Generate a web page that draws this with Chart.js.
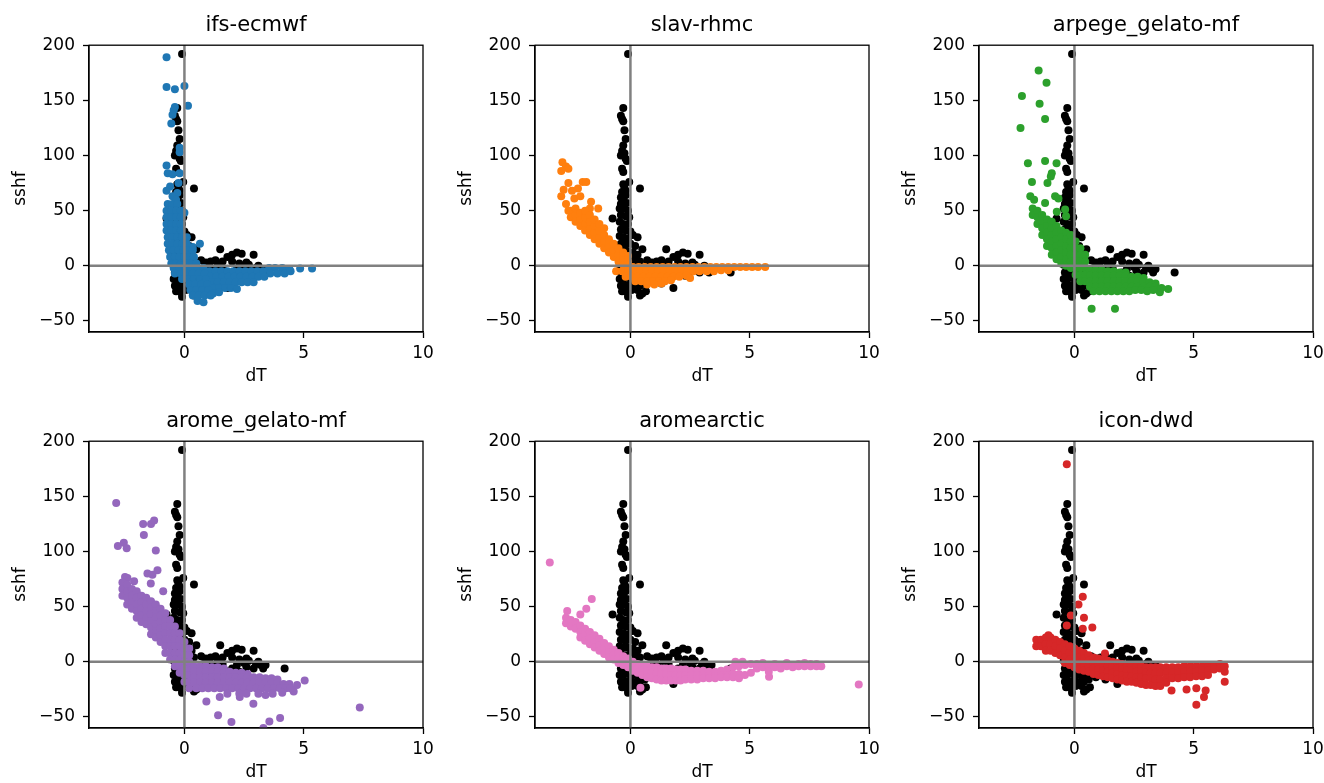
<!DOCTYPE html>
<html>
<head>
<meta charset="utf-8">
<script src="https://cdn.jsdelivr.net/npm/chart.js@4.4.1/dist/chart.umd.min.js"></script>
<style>
body { margin: 0; background: #fff; }
#fig { position: relative; width: 1324px; height: 783px; overflow: hidden; background: #fff; }
#fig canvas { position: absolute; }
</style>
</head>
<body>
<div id="fig"></div>
<script>
// panel titles + matplotlib tab10 colours
const modelNames = ['ifs-ecmwf', 'slav-rhmc', 'arpege_gelato-mf', 'arome_gelato-mf', 'aromearctic', 'icon-dwd'];
const modelColors = ['#1f77b4', '#ff7f0e', '#2ca02c', '#9467bd', '#e377c2', '#d62728'];
const xTicks = [0, 5, 10];
const yTicks = [-50, 0, 50, 100, 150, 200];

// observed (black) dT / sshf pairs, same in every panel
const obsPoints = [
  [-0.1,192],[-0.3,143],[-0.4,136],[-0.35,133],[-0.3,131],[-0.25,123],[-0.2,115],[-0.3,109],[-0.35,104],[-0.25,102],
  [-0.4,100],[-0.2,97],[-0.15,95],[-0.35,88],[-0.3,85],[-0.05,76],[0.4,70],[-0.3,74],[-0.25,71],[-0.2,68],[-0.35,67],
  [-0.2,64],[-0.4,62],[-0.3,59],[-0.15,57],[-0.4,56],[-0.75,43],
  [-0.45,52],[-0.25,52],[-0.1,50],[-0.4,46],[-0.2,45],[-0.05,44],[-0.45,40],[-0.3,38],[-0.1,38],[-0.4,33],[-0.2,32],
  [0,31],[-0.45,27],[-0.3,26],[-0.1,25],[0.1,28],[0.3,26],[-0.4,20],[-0.2,19],[0,20],[0.2,18],[-0.45,14],[-0.3,13],
  [-0.1,13],[0.1,12],[0.3,10],[-0.4,7],[-0.2,6],[0,7],[0.2,5],[0.4,4],[-0.45,1],[-0.3,0],[-0.1,1],[0.1,-1],[0.3,-1],
  [-0.4,-6],[-0.2,-6],[0,-5],[0.2,-7],[0.4,-6],[-0.45,-12],[-0.3,-12],[-0.1,-11],[0.1,-12],[0.3,-13],[0.5,-12],
  [-0.4,-18],[-0.2,-18],[0,-17],[0.2,-19],[0.4,-18],[0.6,-16],[-0.35,-23],[-0.15,-24],[0.05,-22],[0.3,-22],[0.5,-25],
  [0.65,-23],[-0.1,-28],[0.4,-27],
  [0.5,15],[0.7,5],[0.9,3],[1.1,4],[1.3,5],[1.5,15],[1.6,4],[1.8,8],[2.0,10],[2.2,12],[2.4,11],[2.6,3],[2.9,10],
  [2.0,4],[2.3,2],[2.7,1],[3.0,-2],[3.2,-3],[3.4,-3],[4.2,-6],[1.4,1],[1.0,0],[2.5,-1],[3.1,0],
  [0.7,-8],[0.9,-14],[1.1,-10],[1.3,-16],[1.5,-12],[1.8,-20],[1.7,-8],[2.0,-6],[2.3,-9],[2.6,-5],[2.9,-6],[3.3,-6],
  [1.2,-3],[0.8,-2],[1.6,-2],[2.2,-3]
];

const ifsPoints = [
  [-0.75,189],[-0.75,162],[-0.4,160],[0,163],[0.15,145],[-0.4,144],[-0.45,141],[-0.5,137],[-0.55,129],[-0.2,107],
  [-0.2,103],[-0.75,91],[-0.7,84],[-0.5,83],[-0.2,84],[-0.6,72],[-0.75,68],[-0.3,66],[-0.5,63],[0,48],[-0.25,75],
  [-0.35,60],[0.65,20],[0.35,17],
  [-0.7,56],[-0.5,56],[-0.3,56],[-0.75,50],[-0.55,50],[-0.35,50],[-0.15,50],[-0.75,44],[-0.55,44],[-0.35,44],[-0.15,44],
  [-0.75,38],[-0.55,38],[-0.35,38],[-0.15,38],[-0.75,32],[-0.55,32],[-0.35,32],[-0.15,32],
  [-0.7,26],[-0.5,26],[-0.3,26],[-0.1,26],[0.1,26],[-0.7,20],[-0.5,20],[-0.3,20],[-0.1,20],[0.1,20],
  [-0.65,14],[-0.45,14],[-0.25,14],[-0.05,14],[0.15,14],[0.35,14],[-0.6,8],[-0.4,8],[-0.2,8],[0,8],[0.2,8],[0.4,8],
  [-0.55,2],[-0.35,2],[-0.15,2],[0.05,2],[0.25,2],[0.5,2],
  [-0.45,-2],[-0.2,-2],[0.05,-2],[0.3,-2],[0.55,-2],[0.8,-2],[3.55,-2],[3.8,-2],[4.1,-2],[4.4,-3],[4.85,-2.5],[5.35,-2.5],
  [1.05,-5],[1.3,-5],[1.55,-5],[1.8,-5],[2.05,-5],[2.3,-5],[2.55,-5],[2.8,-5],[3.05,-5],[3.3,-5],
  [-0.4,-7],[-0.15,-7],[0.1,-7],[0.35,-7],[0.6,-7],[0.85,-7],[3.6,-7],[3.9,-7],[4.2,-7],[4.45,-5],
  [1.1,-10],[1.35,-10],[1.6,-10],[1.85,-10],[2.1,-10],[2.35,-10],[2.6,-10],[2.85,-10],[3.1,-10],[3.35,-10],
  [0.15,-12],[0.4,-12],[0.65,-12],[0.9,-12],[-0.1,-12],
  [1.15,-15],[1.4,-15],[1.65,-15],[1.9,-15],[2.15,-15],[2.4,-15],[2.65,-15],[2.9,-15],
  [0.2,-17],[0.45,-17],[0.7,-17],[0.95,-17],
  [1.2,-20],[1.45,-20],[1.7,-20],[1.95,-20],[2.2,-21],
  [0.25,-22],[0.5,-22],[0.75,-22],[1.0,-22],[1.2,-25],[1.45,-24],
  [0.35,-27],[0.6,-27],[0.85,-27],[1.1,-27],[0.55,-32],[0.8,-33]
];

const slavPoints = [
  [-2.85,94],[-2.7,90],[-2.6,88],[-2.9,86],[-2.6,75],[-2.8,69],[-2.9,63],[-2.2,70],[-2.0,76],[-1.85,76],[-2.35,61],
  [-2.1,63],[-1.65,58],[-1.7,52],[-1.35,52],[-2.45,68],[-2.7,56],[-2.6,50],
  [-2.5,50],[-2.5,44],[-2.3,46],[-2.3,40],[-2.3,52],[-2.1,42],[-2.1,36],[-2.1,48],[-1.9,38],[-1.9,32],[-1.9,44],[-1.9,50],
  [-1.7,34],[-1.7,28],[-1.7,40],[-1.7,46],[-1.5,30],[-1.5,24],[-1.5,36],[-1.5,42],[-1.3,26],[-1.3,20],[-1.3,32],[-1.3,38],
  [-1.1,22],[-1.1,16],[-1.1,28],[-1.1,34],[-0.9,18],[-0.9,12],[-0.9,24],[-0.7,14],[-0.7,8],[-0.7,20],
  [-0.5,10],[-0.5,4],[-0.5,16],[-0.3,7],[-0.3,1],[-0.3,12],[-0.1,4],[-0.1,-2],[-0.1,9],
  [0.1,-1],[0.35,-1],[0.6,-1],[0.85,-1],[1.1,-1],[1.35,-1],[1.6,-1],[1.85,-1],[2.1,-1],[2.35,-1],[2.6,-1],[2.85,-1],
  [3.1,-1],[3.35,-1],[3.6,-1],[3.85,-1],[4.1,-1],[4.35,-1],[4.6,-1],[4.85,-1],[5.1,-1],[5.35,-1],[5.65,-1],
  [-0.6,-5],[-0.35,-5],[-0.1,-5],[0.15,-5],[0.4,-5],[0.65,-5],[0.9,-5],[1.15,-5],[1.4,-5],[1.65,-5],[1.9,-5],
  [2.15,-5],[2.4,-5],[2.65,-5],[2.9,-5],[3.2,-5],[3.5,-5],[3.8,-4],[4.1,-4],
  [-0.2,-10],[0.05,-10],[0.3,-10],[0.55,-10],[0.8,-10],[1.05,-10],[1.3,-10],[1.55,-10],[1.8,-10],[2.05,-10],[2.35,-9],
  [2.5,-11],[0.2,-14],[0.45,-14],[0.7,-14],[0.95,-14],[1.2,-14],[1.45,-14],[1.7,-13],[0.7,-17],[1.0,-17],[1.3,-16]
];

const arpegePoints = [
  [-1.5,177],[-1.17,166],[-2.2,154],[-1.46,147],[-1.23,133],[-2.26,125],[-1.95,93],[-1.23,95],[-0.75,93],[-1.78,76],
  [-0.95,84],[-0.99,81],[-1.13,75],[-1.85,63],[-1.69,60],[-1.23,57],[-0.81,63],[-0.67,61],[-0.74,49],[-0.39,51],
  [-0.35,45],[0.72,-39],[1.7,-39],[3.93,-21],[3.58,-24],
  [-1.75,52],[-1.75,46],[-1.55,50],[-1.55,44],[-1.55,38],[-1.35,46],[-1.35,40],[-1.35,34],[-1.35,28],
  [-1.15,42],[-1.15,36],[-1.15,30],[-1.15,24],[-1.15,18],[-0.95,40],[-0.95,34],[-0.95,28],[-0.95,22],[-0.95,16],[-0.95,10],
  [-0.75,36],[-0.75,30],[-0.75,24],[-0.75,18],[-0.75,12],[-0.75,6],[-0.55,32],[-0.55,26],[-0.55,20],[-0.55,14],[-0.55,8],[-0.55,2],
  [-0.35,30],[-0.35,24],[-0.35,18],[-0.35,12],[-0.35,6],[-0.35,0],[-0.15,28],[-0.15,22],[-0.15,16],[-0.15,10],[-0.15,4],[-0.15,-2],
  [0.05,22],[0.05,16],[0.05,10],[0.05,4],[0.05,-2],[0.05,-8],[0.25,16],[0.25,10],[0.25,4],[0.25,-2],[0.25,-8],[0.25,-14],
  [0.45,10],[0.45,4],[0.45,-2],[0.45,-8],[0.45,-14],
  [0.65,-4],[0.9,-4],[1.15,-4],[1.4,-5],[1.65,-5],[1.9,-6],[2.15,-6],
  [0.65,-9],[0.9,-9],[1.15,-9],[1.4,-9],[1.65,-9],[1.9,-9],[2.15,-9],[2.4,-10],[2.65,-10],[2.9,-11],
  [0.65,-14],[0.9,-14],[1.15,-14],[1.4,-14],[1.65,-14],[1.9,-14],[2.15,-14],[2.4,-14],[2.65,-14],[2.9,-14],[3.15,-15],[3.4,-16],
  [0.65,-19],[0.9,-19],[1.15,-19],[1.4,-19],[1.65,-19],[1.9,-19],[2.15,-19],[2.4,-19],[2.65,-19],[2.9,-19],[3.15,-19],[3.4,-19],[3.65,-20],
  [0.8,-23],[1.05,-23],[1.3,-23],[1.55,-23],[1.8,-23],[2.05,-23],[2.3,-23],[2.55,-22],[2.8,-22],[3.05,-23],[3.3,-22]
];

const aromePoints = [
  [-2.86,144],[-2.79,105],[-2.54,108],[-2.42,103],[-1.73,125],[-1.7,115],[-1.4,125],[-1.27,128],[-1.2,101],[-1.55,80],
  [-1.34,79],[-1.13,83],[-1.41,71],[-2.49,77],[-2.39,76],[-2.11,73],[-0.89,64],[7.35,-41.5],[5.04,-17],[1.41,-48.5],
  [1.97,-54.5],[3.31,-60],[3.56,-54],[4.01,-51],[0.92,-36],[2.89,-38],[2.32,-32],[1.48,-32],[4.58,-27],[4.72,-21],
  [-2.6,72],[-2.6,66],[-2.6,60],[-2.4,70],[-2.4,64],[-2.4,58],[-2.4,52],[-2.2,66],[-2.2,60],[-2.2,54],[-2.2,48],
  [-2.0,64],[-2.0,58],[-2.0,52],[-2.0,46],[-2.0,40],[-1.8,60],[-1.8,54],[-1.8,48],[-1.8,42],[-1.8,36],
  [-1.6,58],[-1.6,52],[-1.6,46],[-1.6,40],[-1.6,34],[-1.4,55],[-1.4,49],[-1.4,43],[-1.4,37],[-1.4,31],[-1.4,25],
  [-1.2,52],[-1.2,46],[-1.2,40],[-1.2,34],[-1.2,28],[-1.2,22],[-1.0,48],[-1.0,42],[-1.0,36],[-1.0,30],[-1.0,24],[-1.0,18],
  [-0.8,44],[-0.8,38],[-0.8,32],[-0.8,26],[-0.8,20],[-0.8,14],[-0.8,8],[-0.6,38],[-0.6,32],[-0.6,26],[-0.6,20],[-0.6,14],[-0.6,8],[-0.6,2],
  [-0.4,32],[-0.4,26],[-0.4,20],[-0.4,14],[-0.4,8],[-0.4,2],[-0.4,-4],[-0.2,26],[-0.2,20],[-0.2,14],[-0.2,8],[-0.2,2],[-0.2,-4],[-0.2,-10],
  [0,18],[0,12],[0,6],[0,0],[0,-6],[0,-12],[0,-18],[0.2,12],[0.2,6],[0.2,0],[0.2,-6],[0.2,-12],[0.2,-18],[0.2,-24],
  [0.4,-4],[0.65,-4],[0.9,-4],[1.15,-5],[1.4,-5],[1.65,-6],
  [0.4,-9],[0.65,-9],[0.9,-9],[1.15,-9],[1.4,-9],[1.65,-9],[1.9,-9],[2.15,-10],[2.4,-10],[2.65,-11],
  [0.4,-14],[0.65,-14],[0.9,-14],[1.15,-14],[1.4,-14],[1.65,-14],[1.9,-14],[2.15,-14],[2.4,-14],[2.65,-14],[2.9,-14],
  [3.15,-14],[3.4,-15],[3.65,-15],[3.9,-16],
  [0.4,-19],[0.65,-19],[0.9,-19],[1.15,-19],[1.4,-19],[1.65,-19],[1.9,-19],[2.15,-19],[2.4,-19],[2.65,-19],[2.9,-19],
  [3.15,-19],[3.4,-19],[3.65,-19],[3.9,-19],[4.15,-20],[4.4,-20],
  [0.5,-24],[0.75,-24],[1.0,-24],[1.25,-24],[1.5,-24],[1.75,-24],[2.0,-24],[2.25,-24],[2.5,-24],[2.75,-24],[3.0,-24],
  [3.25,-24],[3.5,-24],[3.75,-24],[4.0,-24],[4.25,-24],[4.45,-24],
  [1.8,-29],[2.3,-29],[2.6,-29],[3.1,-29],[3.4,-30],[3.7,-29],[4.1,-28]
];

const aromeArcticPoints = [
  [-3.38,90],[-1.62,57],[-2.65,46],[-1.85,48],[-2.1,43],[9.57,-20.6],[0.42,-23.6],[5.81,-13.6],
  [-2.7,40],[-2.7,35],[-2.5,38],[-2.5,32],[-2.3,36],[-2.3,30],[-2.1,33],[-2.1,27],[-2.1,22],[-1.9,30],[-1.9,24],[-1.9,19],
  [-1.7,27],[-1.7,21],[-1.7,16],[-1.5,24],[-1.5,18],[-1.5,13],[-1.3,21],[-1.3,15],[-1.3,10],[-1.1,17],[-1.1,12],[-1.1,7],
  [-0.9,14],[-0.9,9],[-0.9,4],[-0.7,11],[-0.7,6],[-0.7,2],[-0.5,8],[-0.5,3],[-0.5,-1],[-0.3,5],[-0.3,0],[-0.3,-3],
  [-0.1,3],[-0.1,-2],[-0.1,-5],[0.1,0],[0.1,-4],[0.1,-8],[0.3,-2],[0.3,-6],[0.3,-10],[0.5,-3],[0.5,-8],[0.5,-12],
  [0.7,-4],[0.7,-9],[0.7,-14],[0.9,-5],[0.9,-10],[0.9,-15],[1.1,-5],[1.1,-10],[1.1,-16],[1.3,-6],[1.3,-11],[1.3,-17],
  [1.5,-6],[1.5,-11],[1.5,-17],[1.7,-6],[1.7,-12],[1.7,-17],[1.9,-7],[1.9,-12],[1.9,-17],[2.1,-7],[2.1,-12],[2.1,-17],
  [2.3,-7],[2.3,-12],[2.3,-16],[2.55,-8],[2.55,-12],[2.55,-16],[2.8,-8],[2.8,-12],[2.8,-16],[3.05,-8],[3.05,-12],[3.05,-15],
  [3.3,-9],[3.3,-12],[3.3,-15],[3.55,-9],[3.55,-13],[3.55,-15],[3.8,-8],[3.8,-12],[3.8,-14],[4.05,-7],[4.05,-12],[4.05,-14],
  [4.3,-5],[4.3,-11],[4.3,-14],[4.55,-4],[4.55,-11],[4.55,-15],[4.8,-3],[4.8,-12],[5.05,-2],[5.05,-10],[5.3,-2],[5.3,-6],
  [5.55,-1],[5.55,-5],[5.8,-4],[5.8,-9],[6.05,-2],[6.05,-5],[6.3,-3],[6.3,-6],[6.55,-1],[6.55,-4],[6.8,-3],[6.8,-5],
  [7.05,-2],[7.05,-4],[7.3,-1],[7.3,-4],[7.55,-2],[7.55,-4],[7.8,-2],[7.8,-4],[8.0,-4],[4.4,0],[4.7,0]
];

const iconPoints = [
  [-0.32,179],[0.35,59],[0.17,52],[0.4,40],[0.75,31],[0.35,30],[-0.32,33],[-0.15,42],[6.3,-9],[6.3,-18],[5.11,-39],
  [5.43,-32],[5.5,-26],[4.7,-25],[4.07,-26],[5.11,-24],[1.28,7.5],[-1.09,24],
  [-1.6,20],[-1.6,14],[-1.4,20],[-1.4,14],[-1.2,22],[-1.2,16],[-1.2,10],[-1.0,22],[-1.0,16],[-1.0,10],
  [-0.8,20],[-0.8,14],[-0.8,8],[-0.6,18],[-0.6,12],[-0.6,6],[-0.4,16],[-0.4,10],[-0.4,4],[-0.4,-1],
  [-0.2,14],[-0.2,8],[-0.2,2],[-0.2,-3],[0,12],[0,6],[0,0],[0,-5],[0.2,10],[0.2,4],[0.2,-2],[0.2,-7],
  [0.4,8],[0.4,3],[0.4,-3],[0.4,-8],[0.6,6],[0.6,1],[0.6,-4],[0.6,-9],[0.8,4],[0.8,-1],[0.8,-6],[0.8,-11],
  [1.0,3],[1.0,-2],[1.0,-7],[1.0,-12],[1.2,2],[1.2,-3],[1.2,-8],[1.2,-13],[1.4,1],[1.4,-4],[1.4,-9],[1.4,-14],
  [1.6,0],[1.6,-5],[1.6,-10],[1.6,-15],[1.8,-1],[1.8,-6],[1.8,-11],[1.8,-16],[2.0,-2],[2.0,-7],[2.0,-12],[2.0,-17],
  [2.2,-3],[2.2,-8],[2.2,-13],[2.2,-18],[2.4,-3],[2.4,-8],[2.4,-13],[2.4,-18],[2.6,-4],[2.6,-9],[2.6,-14],[2.6,-19],
  [2.8,-4],[2.8,-9],[2.8,-14],[2.8,-20],[3.0,-5],[3.0,-10],[3.0,-15],[3.0,-21],[3.2,-5],[3.2,-10],[3.2,-15],[3.2,-21],
  [3.4,-5],[3.4,-10],[3.4,-16],[3.4,-22],[3.6,-5],[3.6,-10],[3.6,-16],[3.6,-22],[3.85,-5],[3.85,-10],[3.85,-15],[3.85,-19],
  [4.1,-5],[4.1,-10],[4.1,-15],[4.35,-5],[4.35,-10],[4.35,-15],[4.6,-4],[4.6,-9],[4.6,-14],[4.85,-4],[4.85,-9],[4.85,-14],
  [5.1,-4],[5.1,-9],[5.1,-13],[5.35,-4],[5.35,-8],[5.35,-13],[5.6,-3],[5.6,-8],[5.6,-12],[5.85,-3],[5.85,-7],
  [6.1,-2],[6.1,-6],[6.3,-4]
];

const modelPoints = [ifsPoints, slavPoints, arpegePoints, aromePoints, aromeArcticPoints, iconPoints];

// ======================
// layout of the 2x3 grid
// ======================
const panelW = 440;
const panelH = 387;
const colLeft = [0, 446, 890];
const rowTop = [0, 396];
const font = 'DejaVu Sans';

const toXY = pts => pts.map(p => ({ x: p[0], y: p[1] }));
const fmt = v => (v < 0 ? '\u2212' + Math.abs(v) : String(v));

// grey zero lines on top of the dots, then the black frame
const zeroLinesAndFrame = {
  id: 'zeroLinesAndFrame',
  afterDatasetsDraw(chart) {
    const { ctx, chartArea: a, scales: { x, y } } = chart;
    const x0 = x.getPixelForValue(0);
    const y0 = y.getPixelForValue(0);
    ctx.save();
    ctx.strokeStyle = '#808080';
    ctx.lineWidth = 2.5;
    ctx.beginPath();
    ctx.moveTo(x0, a.top); ctx.lineTo(x0, a.bottom);
    ctx.moveTo(a.left, y0); ctx.lineTo(a.right, y0);
    ctx.stroke();
    ctx.strokeStyle = '#000';
    ctx.lineWidth = 1.3;
    ctx.strokeRect(a.left, a.top, a.width, a.height);
    ctx.restore();
  }
};

function makePanel(i) {
  const fig = document.getElementById('fig');
  const canvas = document.createElement('canvas');
  canvas.width = panelW;
  canvas.height = panelH;
  canvas.style.left = colLeft[i % 3] + 'px';
  canvas.style.top = rowTop[Math.floor(i / 3)] + 'px';
  fig.appendChild(canvas);

  const tickFont = { family: font, size: 17 };
  new Chart(canvas.getContext('2d'), {
    type: 'scatter',
    data: {
      datasets: [{
        label: modelNames[i],
        data: toXY(modelPoints[i]),
        backgroundColor: modelColors[i],
        pointRadius: 4,
        pointHoverRadius: 4,
        borderWidth: 0,
        order: 0
      }, {
        label: 'obs',
        data: toXY(obsPoints),
        backgroundColor: '#000',
        pointRadius: 4,
        pointHoverRadius: 4,
        borderWidth: 0,
        order: 1
      }]
    },
    options: {
      responsive: false,
      animation: false,
      events: [],
      layout: { padding: { left: 0, right: 17, top: 0, bottom: 0 } },
      plugins: {
        legend: { display: false },
        tooltip: { enabled: false },
        title: {
          display: true,
          text: modelNames[i],
          fullSize: false,
          color: '#000',
          font: { family: font, size: 21, weight: 'normal' },
          padding: { top: 13, bottom: 7 }
        }
      },
      scales: {
        x: {
          type: 'linear',
          min: -4,
          max: 10,
          afterBuildTicks: s => { s.ticks = xTicks.map(v => ({ value: v })); },
          afterFit: s => { s.height = 55; },
          grid: { drawOnChartArea: false, tickLength: 6, tickWidth: 1.3, tickColor: '#000' },
          border: { display: true, color: '#000', width: 1.3 },
          ticks: { color: '#000', font: tickFont, padding: 5, maxRotation: 0, autoSkip: false, callback: v => fmt(v) },
          title: { display: true, text: 'dT', color: '#000', font: tickFont, padding: { top: 0, bottom: 0 } }
        },
        y: {
          type: 'linear',
          min: -60,
          max: 200,
          afterBuildTicks: s => { s.ticks = yTicks.map(v => ({ value: v })); },
          afterFit: s => { s.width = 89; },
          grid: { drawOnChartArea: false, tickLength: 6, tickWidth: 1.3, tickColor: '#000' },
          border: { display: true, color: '#000', width: 1.3 },
          ticks: { color: '#000', font: tickFont, padding: 8, autoSkip: false, callback: v => fmt(v) },
          title: { display: true, text: 'sshf', color: '#000', font: tickFont, padding: { top: 10, bottom: 0 } }
        }
      }
    },
    plugins: [zeroLinesAndFrame]
  });
}

for (let i = 0; i < modelNames.length; i++) makePanel(i);
</script>
</body>
</html>
